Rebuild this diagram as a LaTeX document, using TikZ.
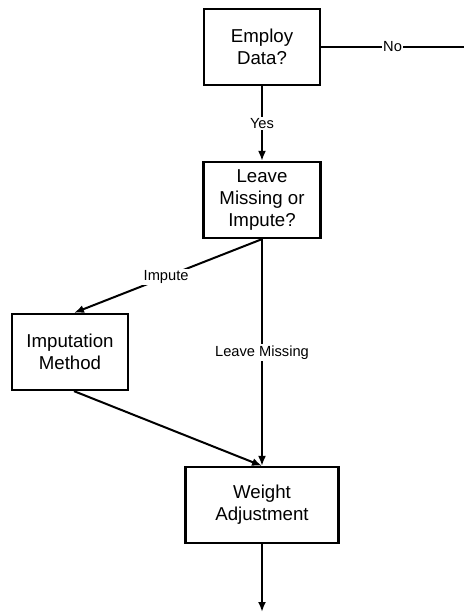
\documentclass[tikz,border=0pt]{standalone}
\usepackage{fontspec}
\setmainfont{Liberation Sans}
\usetikzlibrary{arrows.meta}

\begin{document}
\begin{tikzpicture}[
  x=0.75pt, y=-0.75pt,
  box/.style={rectangle, draw, line width=1.7pt, fill=white,
              minimum height=57pt, align=center, inner sep=0pt,
              font=\fontsize{14}{16.3}\selectfont},
  lbl/.style={fill=white, inner sep=1pt, font=\fontsize{11}{12}\selectfont},
  arr/.style={-{Latex[length=7.5pt, width=6pt]}, line width=1.5pt},
  ln/.style={line width=1.5pt}]
\useasboundingbox (0,0) rectangle (464,615);
\node[box, minimum width=87pt] (employ) at (262,47) {Employ\\Data?};
\node[box, minimum width=87.75pt] (leave) at (262,200) {Leave\\Missing or\\Impute?};
\node[box, minimum width=87pt] (imput) at (70,352) {Imputation\\Method};
\node[box, minimum width=114.75pt] (weight) at (262,505) {Weight\\Adjustment};
\coordinate (noend) at (464,47);
\coordinate (outend) at (262,612);
\draw[ln] (employ) -- node[lbl] {No} (noend);
\draw[arr] (employ) -- node[lbl] {Yes} (leave);
\draw[arr] (leave.south) -- node[lbl, pos=0.51] {Impute} ([xshift=3pt]imput.north);
\draw[arr] (leave) -- node[lbl] {Leave Missing} (weight);
\draw[arr] ([xshift=3pt]imput.south) -- (weight.north);
\draw[arr] (weight) -- (outend);
\end{tikzpicture}
\end{document}
